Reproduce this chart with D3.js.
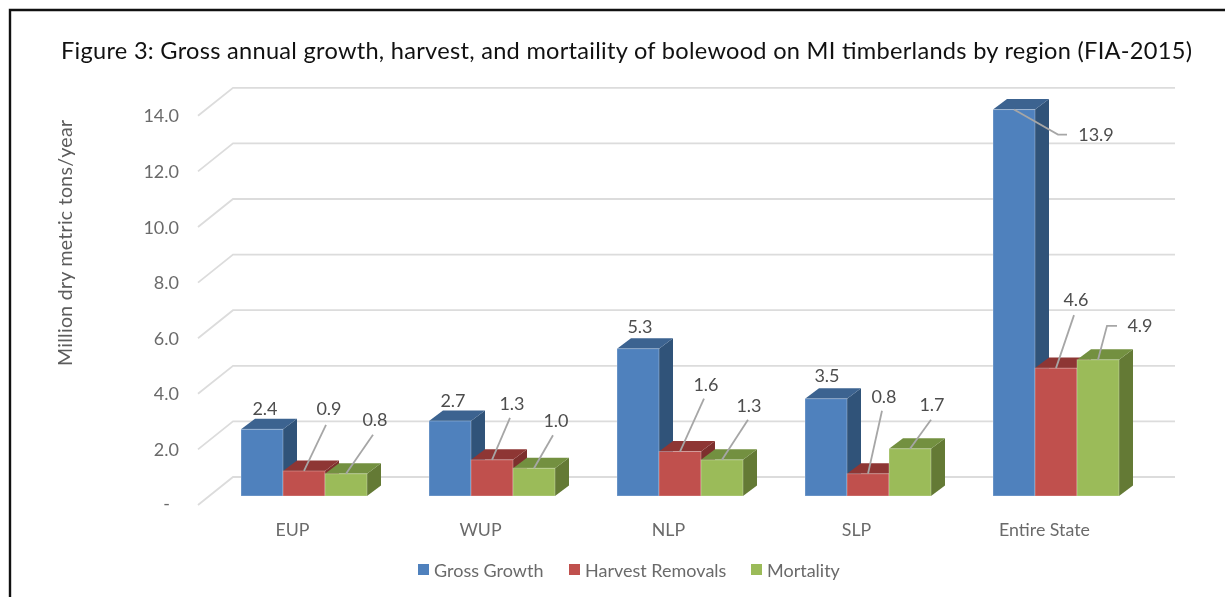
<!DOCTYPE html>
<html><head><meta charset="utf-8">
<script src="https://cdn.jsdelivr.net/npm/d3@7"></script>
<style>
html,body{margin:0;padding:0;background:#fff;overflow:hidden}
text{font-family:Lato,"Open Sans",sans-serif}
svg{filter:blur(0.35px)}
</style></head><body>
<svg id="c" width="1225" height="597"></svg>
<script>
const title = "Figure 3: Gross annual growth, harvest, and mortaility of bolewood on MI timberlands by region (FIA-2015)";
const yAxisTitle = "Million dry metric tons/year";
const categories = ["EUP","WUP","NLP","SLP","Entire State"];
const seriesNames = ["Gross Growth","Harvest Removals","Mortality"];
const grossGrowth = [2.4,2.7,5.3,3.5,13.9];
const harvestRemovals = [0.9,1.3,1.6,0.8,4.6];
const mortality = [0.8,1.0,1.3,1.7,4.9];
const yTicks = [0,2,4,6,8,10,12,14];
const seriesValues = [grossGrowth,harvestRemovals,mortality];

// styling
const front = ["#4f81bd","#c0504d","#9bbb59"];
const topFace = ["#3c6390","#8e3634","#739040"];
const sideFace = ["#305379","#7d2f2d","#647a35"];

// label placement, relative to the front-top-centre of each bar: [labelDx,labelDy, ...leader points]
const labelPlacement = [
 [{l:[3,-20]},{l:[25,-62],p:[[22,-46]]},{l:[29,-54],p:[[27,-39]]}],
 [{l:[3,-20]},{l:[20,-56],p:[[18,-42]]},{l:[22,-47],p:[[19,-33]]}],
 [{l:[2,-22]},{l:[26,-67],p:[[24,-53]]},{l:[27,-54],p:[[26,-40]]}],
 [{l:[1,-23]},{l:[16,-77],p:[[14,-63]]},{l:[22,-44],p:[[21,-29]]}],
 [{l:[82,25],p:[[44,25],[53,25]]},{l:[20,-68],p:[[18,-53]]},{l:[42,-34],p:[[9,-34],[19,-34]]}]
];

const svg = d3.select("#c");
// frame
svg.append("path").attr("d","M10,597V10H1225").attr("fill","none").attr("stroke","#111").attr("stroke-width",2.4);
svg.append("text").attr("x",61).attr("y",58.5).attr("font-size",23.6).attr("fill","#111")
  .attr("textLength",1131).attr("lengthAdjust","spacing").text(title);

// scales: y gives the plane of the bar fronts
const y = d3.scaleLinear().domain([0,14]).range([496,496-27.8*14]);
const x = d3.scaleBand().domain(categories).range([210,1150]).paddingInner(0).paddingOuter(0);
const xs = d3.scaleBand().domain(d3.range(3)).range([x.bandwidth()/2-63,x.bandwidth()/2+63]);
const depthX=14, depthY=10.5;
const wallDY=-19, floorDY=9, wallL=233, floorL=198, wallR=1175;

// gridlines
svg.append("g").selectAll("path").data(yTicks).join("path")
  .attr("d",v=>`M${floorL},${y(v)+floorDY}L${wallL},${y(v)+wallDY}H${wallR}`)
  .attr("fill","none").attr("stroke","#dcdcdc").attr("stroke-width",1.8);

// y ticks
svg.append("g").selectAll("text").data(yTicks).join("text")
  .attr("x",v=>v===0?170:179).attr("y",v=>y(v)+floorDY+(v===0?0:2)).attr("text-anchor","end")
  .attr("dominant-baseline","middle").attr("font-size",18).attr("fill","#6a6a6a")
  .text(v=>v===0?"-":d3.format(".1f")(v));

// y title
svg.append("text").attr("transform","translate(72,243) rotate(-90)").attr("text-anchor","middle")
  .attr("font-size",19.5).attr("fill","#5c5c5c")
  .attr("textLength",246).attr("lengthAdjust","spacing").text(yAxisTitle);

// bars
const barHalo="rgba(255,255,255,0.28)";
categories.forEach((c,gi)=>{
  const g=svg.append("g");
  seriesValues.forEach((vals,si)=>{
    const v=vals[gi], x0=x(c)+xs(si), x1=x0+xs.bandwidth(), t=y(v), b=y(0);
    g.append("path").attr("d",`M${x1},${b}L${x1+depthX},${b-depthY}V${t-depthY}L${x1},${t}Z`).attr("fill",sideFace[si]);
    g.append("path").attr("d",`M${x0},${t}L${x0+depthX},${t-depthY}H${x1+depthX}L${x1},${t}Z`).attr("fill",topFace[si]);
    g.append("rect").attr("x",x0).attr("y",t).attr("width",x1-x0).attr("height",b-t)
      .attr("fill",front[si]).attr("stroke",barHalo).attr("stroke-width",1);
  });
});

// data labels & leaders
const lg=svg.append("g");
categories.forEach((c,gi)=>{
  seriesValues.forEach((vals,si)=>{
    const v=vals[gi], cx=x(c)+xs(si)+xs.bandwidth()/2, t=y(v), pl=labelPlacement[gi][si];
    if(pl.p){
      const pts=[[cx,t]].concat(pl.p.map(d=>[cx+d[0],t+d[1]]));
      lg.append("path").attr("d",d3.line()(pts)).attr("fill","none").attr("stroke","#a6a6a6").attr("stroke-width",1.8);
    }
    lg.append("text").attr("x",cx+pl.l[0]).attr("y",t+pl.l[1]+1.5).attr("text-anchor","middle")
      .attr("dominant-baseline","middle").attr("font-size",18).attr("fill","#4d4d4d").text(d3.format(".1f")(v));
  });
});

// category labels
svg.append("g").selectAll("text").data(categories).join("text")
  .attr("x",c=>x(c)+x.bandwidth()/2-11.5).attr("y",531).attr("text-anchor","middle")
  .attr("dominant-baseline","middle").attr("font-size",17.8).attr("fill","#6a6a6a").text(c=>c);

// legend
const legendX=[418,569,751];
const lgd=svg.append("g").selectAll("g").data(seriesNames).join("g")
  .attr("transform",(d,i)=>`translate(${legendX[i]},564)`);
lgd.append("rect").attr("width",11).attr("height",11).attr("fill",(d,i)=>front[i]);
lgd.append("text").attr("x",16).attr("y",8).attr("dominant-baseline","middle")
  .attr("font-size",18).attr("fill","#6a6a6a").text(d=>d);
</script>
</body></html>
